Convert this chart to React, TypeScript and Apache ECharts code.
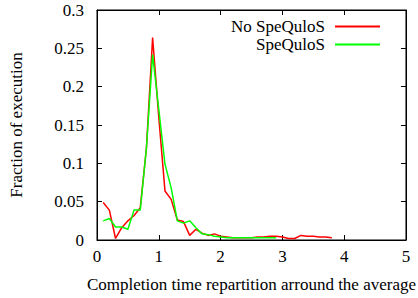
import React, { useEffect, useRef } from "react";
import * as echarts from "echarts";

const redX = [0.1,0.2,0.3,0.4,0.5,0.6,0.7,0.8,0.9,1.0,1.1,1.2,1.3,1.4,1.5,1.6,1.7,1.8,1.9,2.0,2.1,2.2,2.3,2.4,2.5,2.6,2.7,2.8,2.9,3.0,3.1,3.2,3.3,3.4,3.5,3.6,3.7,3.8];
const redY = [0.049,0.039,0.002,0.016,0.025,0.032,0.042,0.12,0.264,0.16,0.064,0.053,0.026,0.024,0.006,0.014,0.009,0.006,0.008,0.005,0.004,0.003,0.003,0.003,0.003,0.004,0.004,0.005,0.005,0.004,0.002,0.002,0.006,0.005,0.005,0.004,0.004,0.003];
const greenX = [0.1,0.2,0.3,0.4,0.5,0.6,0.7,0.8,0.9,1.0,1.1,1.2,1.3,1.4,1.5,1.6,1.7,1.8,1.9,2.0,2.1,2.2,2.3,2.4,2.5,2.6,2.7,2.8,2.9];
const greenY = [0.025,0.028,0.017,0.017,0.014,0.039,0.039,0.12,0.242,0.17,0.099,0.068,0.025,0.022,0.025,0.016,0.008,0.007,0.005,0.004,0.003,0.003,0.003,0.003,0.003,0.003,0.003,0.003,0.003];
const seriesNames = ["No SpeQuloS", "SpeQuloS"];
const xTitle = "Completion time repartition arround the average";
const yTitle = "Fraction of execution";

const FONT = "Liberation Serif";
const FS = 17;

export default function App() {
  const ref = useRef<HTMLDivElement>(null);
  useEffect(() => {
    if (!ref.current) return;
    const chart = echarts.init(ref.current, undefined, { renderer: "svg" });
    const txt = { fontFamily: FONT, fontSize: FS, color: "#000" };
    const line = { show: true, onZero: false, lineStyle: { color: "#000", width: 1 } };
    const tick = { show: true, inside: true, length: 5, lineStyle: { color: "#000" } };
    chart.setOption({
      animation: false,
      backgroundColor: "#fff",
      grid: { left: 95, right: 12, top: 10, bottom: 55, show: true, borderColor: "#000", borderWidth: 1 },
      legend: {
        data: seriesNames,
        orient: "vertical",
        right: 33,
        top: 13,
        align: "right",
        icon: "rect",
        itemWidth: 45,
        itemHeight: 2,
        itemGap: 1,
        textStyle: { ...txt, padding: [0, 5, 0, 0] },
      },
      xAxis: [
        {
          type: "value",
          min: 0, max: 5, interval: 1,
          position: "bottom",
          axisLine: line,
          axisTick: tick,
          splitLine: { show: false },
          axisLabel: { ...txt, margin: 8 },
          name: xTitle,
          nameLocation: "middle",
          nameGap: 36,
          nameTextStyle: txt,
        },
        {
          type: "value",
          min: 0, max: 5, interval: 1,
          position: "top",
          axisLine: line,
          axisTick: tick,
          splitLine: { show: false },
          axisLabel: { show: false },
        },
      ],
      yAxis: [
        {
          type: "value",
          min: 0, max: 0.3, interval: 0.05,
          position: "left",
          axisLine: line,
          axisTick: tick,
          splitLine: { show: false },
          axisLabel: { ...txt, margin: 13 },
          name: yTitle,
          nameLocation: "middle",
          nameGap: 72,
          nameTextStyle: txt,
        },
        {
          type: "value",
          min: 0, max: 0.3, interval: 0.05,
          position: "right",
          axisLine: line,
          axisTick: tick,
          splitLine: { show: false },
          axisLabel: { show: false },
        },
      ],
      series: [
        {
          name: seriesNames[0],
          type: "line",
          data: redX.map((x, i) => [x, redY[i]]),
          showSymbol: false,
          lineStyle: { color: "#ff0000", width: 1.5 },
          itemStyle: { color: "#ff0000" },
          z: 2,
        },
        {
          name: seriesNames[1],
          type: "line",
          data: greenX.map((x, i) => [x, greenY[i]]),
          showSymbol: false,
          lineStyle: { color: "#00ff00", width: 1.5 },
          itemStyle: { color: "#00ff00" },
          z: 3,
        },
      ],
    });
    return () => chart.dispose();
  }, []);
  return <div ref={ref} style={{ width: 418, height: 298, position: "absolute", left: 0, top: 0 }} />;
}
